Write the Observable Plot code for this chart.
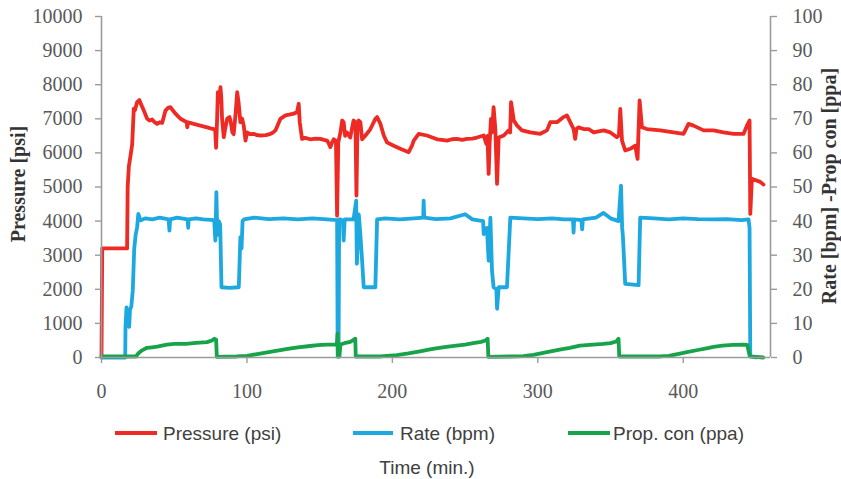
<!DOCTYPE html>
<html><head><meta charset="utf-8">
<script src="https://cdn.jsdelivr.net/npm/d3@7"></script>
<script src="https://cdn.jsdelivr.net/npm/@observablehq/plot@0.6"></script>
<style>
body{margin:0;background:#fff;width:841px;height:479px;overflow:hidden;position:relative;}
#chart svg{display:block;font-family:"Liberation Serif",serif !important;}
#chart svg text, #chart svg g{font-family:"Liberation Serif",serif !important;}
.lg{position:absolute;font-family:"Liberation Sans",Arial,sans-serif;font-size:19px;color:#404040;line-height:1;white-space:nowrap;}
.sw{position:absolute;height:4px;}
</style></head><body>
<div id="chart"></div>
<script>
// ---- data ----
const pressureTime=[0,0.5,17.6,18.0,18.8,19.9,21.1,22.2,23.0,24.5,26.0,27.5,29.1,31.4,33.0,34.8,36.5,38.3,40.0,41.7,44.0,46.0,47.4,49.0,50.9,52.5,54.3,56.5,58.5,59.0,59.5,63.4,66.0,68.0,70.0,72.6,75.0,77.2,78.2,78.8,79.5,80.0,81.0,81.8,82.4,82.9,84.1,85.0,86.4,88.0,88.7,90.0,90.9,92.3,93.3,94.2,95.5,96.7,97.8,99.0,100.1,102.0,104.7,107.0,109.3,113.0,116.2,118.0,119.6,121.5,123.0,126.5,129.0,132.2,134.5,135.6,136.3,137.9,140.0,143.6,147.0,150.5,153.0,155.1,156.0,157.4,158.5,159.7,161.2,162.0,162.8,164.3,165.5,166.5,167.5,168.8,171.0,173.3,174.6,175.3,176.0,176.9,178.0,179.2,181.5,184.9,188.3,189.5,191.8,194.1,196.3,200.9,205.5,211.2,213.5,214.7,218.1,223.8,230.7,234.0,237.6,241.0,244.4,248.0,251.3,255.0,258.2,262.8,264.6,265.4,266.2,266.9,267.8,268.6,269.6,270.8,272.0,273.1,276.6,280.0,281.0,281.6,283.5,285.8,289.1,294.9,301.7,306.3,308.6,313.2,317.7,320.0,322.3,324.6,325.7,326.6,328.0,331.5,334.9,338.4,345.3,349.9,354.4,355.8,356.7,357.9,360.1,363.6,367.0,368.6,370.0,371.6,375.0,384.2,393.4,400.2,403.6,407.1,414.0,420.8,427.7,434.6,441.5,443.8,445.6,446.1,447.2,452.9,455.2];
const pressureValue=[0,3200,3200,5000,5600,5900,6250,7300,7250,7490,7550,7400,7240,7000,6950,6980,6900,6850,6900,6880,7240,7330,7340,7250,7150,7080,7000,6950,6900,6750,6900,6850,6820,6800,6780,6750,6720,6700,6650,6150,7000,7780,7500,7930,7600,7000,6460,6700,7000,7050,6950,6600,6550,7200,7780,7500,6900,7000,6800,6360,6600,6550,6560,6520,6510,6520,6560,6600,6660,6850,7000,7100,7120,7150,7200,7440,6900,6410,6440,6400,6420,6410,6380,6360,6300,6170,6300,6400,6350,4160,6300,6600,6950,6900,6500,6600,6450,6950,6900,4750,6800,6950,6900,6400,6510,6700,7000,7050,6850,6510,6310,6210,6120,6020,6210,6360,6560,6510,6400,6380,6360,6400,6410,6380,6410,6420,6450,6510,6260,6500,5385,6300,7000,6600,7340,6700,5090,6450,6510,6660,6600,7490,6950,6800,6660,6600,6560,6660,6900,6900,7050,7100,6900,6700,6410,6700,6750,6700,6700,6600,6660,6600,6460,6520,7290,6360,6070,6120,6210,5825,7540,6750,6700,6660,6600,6560,6850,6800,6660,6660,6600,6560,6560,6800,6950,4210,5240,5150,5070];

const rateTime=[0,16.3,16.5,17.2,18.0,19.0,19.6,20.5,21.5,22.5,23.5,24.5,25.3,26.8,30,35,40,46.2,46.7,47.2,52,59.2,59.6,60,65,70,77.5,78.3,79.0,79.6,80.6,81.6,82.5,88,94.4,95.5,96.3,97,98,105,115,125,135,145,155,162.0,162.4,163.0,163.4,164.3,166.0,166.5,167.2,173.3,175.1,175.6,176.9,178.0,179.2,180.3,188.3,189.5,195,205,215,221.2,221.5,221.9,230,240,250.1,255,262.4,262.8,265.0,266.2,267.4,268.5,269.6,271.5,272.0,273.1,278.8,281.1,290,300,310,318,324.2,324.6,325.0,330.0,330.5,331,340,345.2,350,355.5,357.2,358.0,358.5,360.1,369.3,370.4,380,390,400,410,420,430,440,444.9,445.6,446.1,450];
const rateValue=[0,0,9,14.7,10,9,14,15,19.6,32,36,38.2,42.1,40.2,40.8,40.5,41,40.5,37.2,40.5,41,40.5,38,40.5,40.8,40.5,40.3,34.3,48.5,36,40,39,20.6,20.4,20.6,35.3,32,40,40.5,41,40.6,40.8,40.5,40.8,40.5,40.3,0.3,0.3,40.5,40.5,40,34.3,40.5,40.5,46,27.5,42,36,28.4,20.6,20.6,40.5,40.8,40.5,40.8,41,46,41,40.6,40.8,42,40.5,40,36.2,38,28.4,41,25.5,20.6,20,14.3,20.6,20.6,41,40.8,40.6,40.8,40.5,40.5,36.6,40.5,40.3,37.6,40.5,41,42.4,40.8,40,50.4,38,35.7,21.6,21.2,41,40.8,40.5,40.8,40.6,40.5,40.6,40.3,40.5,38,0.3,0];

const propTime=[0,24.0,24.5,26,27.5,31,34.8,38.3,45,50,58,65,72.6,76,77.5,78.8,79.3,93,100,107,114,121,128,135,142,148.6,155,161.8,162.3,162.6,163.6,164.3,167,171,173.3,174.5,174.8,191.8,203,211,219,225,230,237,244,250,255.6,261,264,265.5,266.0,281,290,297,306.3,315,322,329,338,345,350,354,355.5,356.0,384,390,396,402.6,410,416,420.8,427,434,441.5,444,445.8,455];
const propValue=[0.3,0.3,0.8,1.5,2,2.8,3,3.2,3.8,4,4,4.3,4.5,5,5.5,5.3,0.2,0.3,0.5,1,1.5,2,2.5,3,3.3,3.6,3.8,3.8,7,0.3,0.3,3.8,4.2,4.6,5.2,5.5,0.3,0.3,0.7,1.2,1.8,2.3,2.7,3.1,3.5,3.8,4.2,4.6,5,5.5,0.2,0.3,0.4,0.8,1.6,2.3,2.8,3.5,3.8,4,4.2,4.7,5.5,0.3,0.3,0.5,1,1.6,2.2,2.7,3.1,3.5,3.7,3.8,3.7,0.3,0];

const xTicks=[0,100,200,300,400];
const yTicks=[0,1000,2000,3000,4000,5000,6000,7000,8000,9000,10000];
const seriesNames=["Pressure (psi)","Rate (bpm)","Prop. con (ppa)"];
const seriesColors=["#ed2a24","#1ea8e0","#17a34a"];
const leftTitle="Pressure [psi]";
const rightTitle="Rate [bpm] -Prop con [ppa]";
const xTitle="Time (min.)";
const rightScale=100; // right axis (0-100) mapped onto left axis (0-10000)

const pressure=pressureTime.map((t,i)=>({t,v:pressureValue[i]}));
const rate=rateTime.map((t,i)=>({t,v:rateValue[i]*rightScale}));
const prop=propTime.map((t,i)=>({t,v:propValue[i]*rightScale}));

const axisColor="#9b9b9b", textColor="#595959";
const serif="Liberation Serif";

const chart=Plot.plot({
  width:841,height:410,
  marginLeft:101,marginRight:71,marginTop:16,marginBottom:53,
  style:{background:"#fff"},
  x:{domain:[0,460],axis:null},
  y:{domain:[0,10000],axis:null},
  marks:[
    Plot.line(pressure,{x:"t",y:"v",stroke:seriesColors[0],strokeWidth:3.8,strokeLinejoin:"round"}),
    Plot.line(rate,{x:"t",y:"v",stroke:seriesColors[1],strokeWidth:3.8,strokeLinejoin:"round"}),
    Plot.line(prop,{x:"t",y:"v",stroke:seriesColors[2],strokeWidth:3.8,strokeLinejoin:"round"}),
    Plot.ruleX([0],{stroke:axisColor,strokeWidth:1.6}),
    Plot.ruleX([460],{stroke:axisColor,strokeWidth:1.6}),
    Plot.ruleY([0],{stroke:axisColor,strokeWidth:1.6}),
    Plot.axisY({anchor:"left",ticks:yTicks,tickSize:6,tickPadding:13,tickFormat:d=>String(d),fontSize:20,fontFamily:serif,stroke:axisColor,strokeWidth:1.4,fill:textColor,label:null}),
    Plot.axisY({anchor:"right",ticks:yTicks,tickSize:6,tickPadding:16,tickFormat:d=>String(d/rightScale),fontSize:20,fontFamily:serif,stroke:axisColor,strokeWidth:1.4,fill:textColor,label:null}),
    Plot.axisX({anchor:"bottom",ticks:xTicks,tickSize:6,tickPadding:20,tickFormat:d=>String(d),fontSize:20,fontFamily:serif,stroke:axisColor,strokeWidth:1.4,fill:textColor,label:null}),
    Plot.text([leftTitle],{frameAnchor:"left",textAnchor:"middle",rotate:-90,dx:-83,dy:-3,fontSize:20,fontFamily:serif,fontWeight:"bold",fill:"#333"}),
    Plot.text([rightTitle],{frameAnchor:"right",textAnchor:"middle",rotate:-90,dx:59,dy:-1,fontSize:20,fontFamily:serif,fontWeight:"bold",fill:"#333"})
  ]
});
document.getElementById("chart").appendChild(chart);
// make sure the tick labels use the serif face of the reference
chart.querySelectorAll("text").forEach(t=>t.style.setProperty("font-family","'Liberation Serif', serif","important"));

// legend (HTML, below the SVG)
const swLeft=[115,353,568], swWidth=[42,40,42], txLeft=[163,400,613];
seriesNames.forEach((name,i)=>{
  const sw=document.createElement("div");
  sw.className="sw";
  sw.style.left=swLeft[i]+"px"; sw.style.top="431px"; sw.style.width=swWidth[i]+"px";
  sw.style.background=seriesColors[i];
  document.body.appendChild(sw);
  const tx=document.createElement("div");
  tx.className="lg";
  tx.style.left=txLeft[i]+"px"; tx.style.top="424px";
  tx.textContent=name;
  document.body.appendChild(tx);
});
const xt=document.createElement("div");
xt.className="lg";
xt.style.left="427px"; xt.style.top="458px"; xt.style.transform="translateX(-50%)";
xt.textContent=xTitle;
document.body.appendChild(xt);
</script>
</body></html>
